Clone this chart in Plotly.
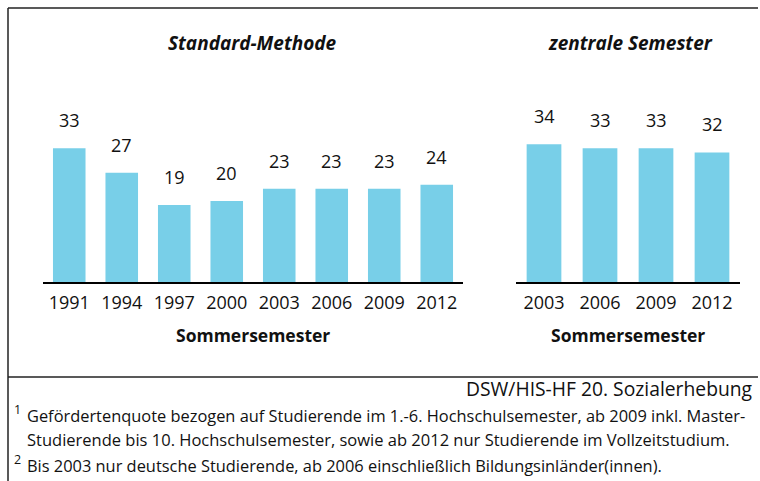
import plotly.graph_objects as go

# Daten (in %)
jahre_std = ["1991", "1994", "1997", "2000", "2003", "2006", "2009", "2012"]
quote_std = [33, 27, 19, 20, 23, 23, 23, 24]
jahre_zen = ["2003", "2006", "2009", "2012"]
quote_zen = [34, 33, 33, 32]

W, H = 760, 481
FONT = "Open Sans"
BLAU = "#78CFE8"


def px_x(p):
    return p / W


def px_y(p):
    return 1 - p / H


def text(x, y, t, size, xanchor="center", yanchor="middle"):
    fig.add_annotation(x=px_x(x), y=px_y(y), xref="paper", yref="paper", showarrow=False,
                       xanchor=xanchor, yanchor=yanchor, text=t,
                       font=dict(family=FONT, size=size, color="#111"))


pos_std = list(range(len(jahre_std)))
pos_zen = list(range(len(jahre_zen)))

fig = go.Figure()
fig.add_trace(go.Bar(x=pos_std, y=quote_std, marker_color=BLAU,
                     marker_line_width=0, xaxis="x", yaxis="y"))
fig.add_trace(go.Bar(x=pos_zen, y=quote_zen, marker_color=BLAU,
                     marker_line_width=0, xaxis="x2", yaxis="y2"))

y_dom = [px_y(282), px_y(282 - 45 * 4.05)]
achse = dict(automargin=False, showline=True, linecolor="black",
             linewidth=1.5, showgrid=False, zeroline=False, ticks="", ticklabelstandoff=4,
             tickmode="array", tickfont=dict(family=FONT, size=18, color="#111"),
             fixedrange=True)
fig.update_layout(
    width=W, height=H,
    margin=dict(l=0, r=0, t=0, b=0, autoexpand=False),
    paper_bgcolor="white", plot_bgcolor="white",
    showlegend=False, bargap=0.38,
    xaxis=dict(domain=[px_x(43), px_x(463)], anchor="y", range=[-0.5, len(jahre_std) - 0.5],
               tickvals=pos_std, ticktext=jahre_std, **achse),
    xaxis2=dict(domain=[px_x(516), px_x(740)], anchor="y2", range=[-0.5, len(jahre_zen) - 0.5],
                tickvals=pos_zen, ticktext=jahre_zen, **achse),
    yaxis=dict(domain=y_dom, range=[0, 45], visible=False, automargin=False),
    yaxis2=dict(domain=y_dom, range=[0, 45], visible=False, anchor="x2", automargin=False),
)

# Werte über den Balken
for xs, ys, xr, yr in [(pos_std, quote_std, "x", "y"), (pos_zen, quote_zen, "x2", "y2")]:
    for x, v in zip(xs, ys):
        fig.add_annotation(x=x, y=v, xref=xr, yref=yr, text=str(v), showarrow=False,
                           xanchor="center", yanchor="middle", yshift=28,
                           font=dict(family=FONT, size=18, color="#111"))

text(253, 43, "<b><i>Standard-Methode</i></b>", 19)
text(630, 43, "<b><i>zentrale Semester</i></b>", 19)
text(253, 335, "<b>Sommersemester</b>", 17.5)
text(628, 335, "<b>Sommersemester</b>", 17.5)
text(130, 6, "in %", 16, xanchor="left", yanchor="bottom")

# Rahmen
linie = dict(color="#222", width=1.5)
fig.add_shape(type="line", xref="paper", yref="paper", x0=px_x(8), x1=px_x(758),
              y0=px_y(8), y1=px_y(8), line=linie)
fig.add_shape(type="line", xref="paper", yref="paper", x0=px_x(8), x1=px_x(8),
              y0=px_y(8), y1=0, line=linie)
fig.add_shape(type="line", xref="paper", yref="paper", x0=px_x(8), x1=px_x(758),
              y0=px_y(377), y1=px_y(377), line=linie)

# Quelle und Fußnoten
text(755, 388, "DSW/HIS-HF 20. Sozialerhebung", 19.3, xanchor="right")
text(17, 409, "1", 12.5)
text(25, 415, "Gefördertenquote bezogen auf Studierende im 1.-6. Hochschulsemester, ab 2009 inkl. Master-",
     16.4, xanchor="left")
text(25, 439, "Studierende bis 10. Hochschulsemester, sowie ab 2012 nur Studierende im Vollzeitstudium.",
     16.5, xanchor="left")
text(17, 459, "2", 12.5)
text(25, 465, "Bis 2003 nur deutsche Studierende, ab 2006 einschließlich Bildungsinländer(innen).",
     16.4, xanchor="left")

fig.write_html("out.html", config={"displayModeBar": False},
               post_script="document.body.style.margin = '0';")
